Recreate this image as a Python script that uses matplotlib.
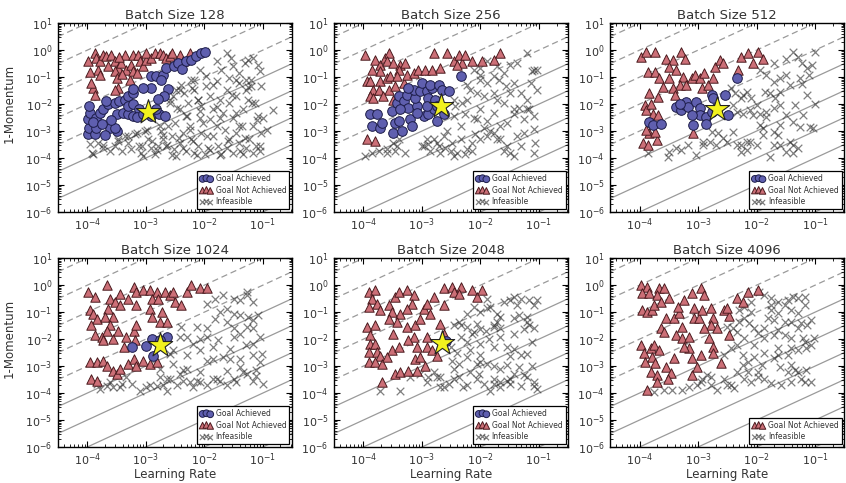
import numpy as np
import matplotlib
matplotlib.use("Agg")
import matplotlib.pyplot as plt
from matplotlib.ticker import LogLocator, NullFormatter

# ---------------- data: (log10 learning rate, log10 (1-momentum)) ----------------
batch_sizes = [128, 256, 512, 1024, 2048, 4096]

b128_goal = [(-3.99,-3.12),(-3.97,-2.87),(-3.99,-2.56),(-3.96,-2.32),(-3.97,-2.08),(-3.87,-3.12),(-3.85,-2.87),
             (-3.85,-2.5),(-3.9,-2.67),(-3.79,-2.32),(-3.73,-2.2),(-3.65,-2.01),(-3.62,-2.87),(-3.70,-3.16),(-3.5,-3.0),
             (-3.53,-2.87),(-3.5,-2.38),(-3.39,-2.32),(-3.3,-2.38),(-3.22,-2.44),(-3.53,-1.95),(-3.45,-1.89),(-3.36,-1.83),
             (-3.3,-1.71),(-3.22,-1.58),(-3.3,-2.08),(-3.22,-1.98),(-3.11,-2.2),(-3.15,-2.47),(-3.05,-2.38),(-2.91,-2.44),
             (-2.77,-2.38),(-2.68,-2.44),(-2.82,-2.17),(-2.91,-0.95),(-2.82,-0.97),(-2.71,-0.91),(-2.74,-1.12),(-2.62,-1.44),
             (-2.69,-1.71),(-2.79,-1.81),(-2.91,-1.4),(-3.05,-1.4),(-3.22,-1.44),(-2.65,-0.66),(-2.52,-0.6),(-2.45,-0.48),
             (-2.38,-0.7),(-2.31,-0.42),(-2.22,-0.36),(-2.14,-0.21),(-2.05,-0.11),(-1.98,-0.05),(-3.68,-1.9),(-3.6,-2.6),
             (-3.75,-2.75)]
b128_fail = [(-3.99,-0.42),(-3.87,-0.11),(-3.85,-0.29),(-3.82,-0.72),(-3.79,-0.42),(-3.73,-0.17),(-3.68,-0.23),
             (-3.79,-0.91),(-3.9,-1.4),(-3.87,-1.65),(-3.93,-1.22),(-3.59,-0.17),(-3.53,-0.42),(-3.48,-0.66),(-3.42,-0.48),
             (-3.36,-0.17),(-3.53,-0.79),(-3.5,-1.03),(-3.48,-1.4),(-3.53,-1.46),(-3.33,-0.72),(-3.27,-1.09),(-3.25,-0.54),
             (-3.22,-0.17),(-3.13,-0.17),(-3.1,-0.42),(-3.05,-0.6),(-2.99,-0.36),(-2.99,-0.11),(-2.91,-0.29),(-2.85,-0.11),
             (-2.76,-0.11),(-2.71,-0.17),(-2.65,-0.29),(-2.59,-0.21),(-2.42,-0.17),(-2.37,-0.42),(-2.25,-0.11),(-3.22,-0.79),
             (-3.65,-0.6),(-3.95,-0.8),(-3.4,-0.9),(-3.15,-0.85),(-2.55,-0.1),(-3.45,-0.25)]
b128_infeasible = [(-3.96,-3.49),(-3.90,-3.86),(-3.82,-3.45),(-3.73,-3.61),(-3.62,-3.73),(-3.53,-3.55),(-3.48,-3.3),
             (-3.36,-3.18),(-3.3,-3.43),(-3.25,-3.67),(-3.19,-3.12),(-3.11,-3.55),(-3.08,-3.8),(-3.02,-3.0),(-2.96,-3.3),
             (-2.91,-3.61),(-2.85,-3.86),(-2.79,-3.55),(-2.74,-3.0),(-2.71,-3.3),(-2.65,-3.55),(-2.62,-2.81),(-2.56,-3.18),
             (-2.51,-3.67),(-2.48,-3.92),(-2.42,-3.43),(-2.36,-3.06),(-2.31,-3.73),(-2.25,-2.81),(-2.22,-3.3),(-2.17,-3.8),
             (-2.11,-3.55),(-2.05,-3.06),(-1.99,-3.86),(-1.94,-3.61),(-1.85,-3.18),(-1.79,-2.81),(-1.77,-3.55),(-1.71,-3.86),
             (-1.62,-3.61),(-1.57,-3.3),(-1.51,-3.8),(-1.45,-3.06),(-1.4,-3.43),(-1.34,-3.86),(-1.28,-3.61),(-1.23,-3.3),
             (-1.17,-3.8),(-1.11,-3.55),(-1.05,-3.73),(-1.03,-3.06),(-1.0,-2.51),
             (-2.59,-1.95),(-2.54,-1.71),(-2.48,-1.46),(-2.39,-1.28),(-2.34,-1.58),(-2.28,-1.95),(-2.22,-1.09),(-2.17,-1.46),
             (-2.11,-1.83),(-2.05,-2.08),(-1.97,-1.34),(-1.91,-1.71),(-1.85,-2.2),(-1.79,-1.15),(-1.74,-1.83),(-1.68,-2.32),
             (-1.62,-1.46),(-1.57,-1.95),(-1.51,-2.51),(-1.45,-1.71),(-1.4,-1.22),(-1.34,-2.2),(-1.28,-1.46),(-1.25,-1.83),
             (-1.2,-1.09),(-1.14,-1.95),(-1.08,-2.44),(-1.03,-1.34),(-1.91,-2.57),(-2.08,-2.51),(-2.31,-2.44),(-2.42,-2.2),
             (-1.4,-2.81),(-1.17,-2.81),
             (-1.79,-0.42),(-1.71,-0.72),(-1.62,-0.11),(-1.54,-0.29),(-1.51,-0.6),(-1.4,-0.85),(-1.31,-0.48),(-1.25,-0.36),
             (-1.17,-0.29),(-1.08,-0.54),(-1.05,-0.79),(-1.57,-1.03),(-1.45,-1.09),(-1.28,-1.09),(-1.2,-1.34),(-1.97,-0.97),
             (-2.08,-0.72),(-2.17,-1.09),
             (-3.92,-3.81),(-3.73,-3.5),(-3.47,-3.38),(-3.41,-3.75),(-3.3,-3.2),(-3.15,-3.07),(-3.07,-3.56),(-2.98,-2.95),
             (-2.9,-3.38),(-2.81,-3.69),(-2.76,-2.83),(-2.7,-3.13),(-2.64,-3.5),(-2.56,-3.87),(-2.5,-2.7),(-2.44,-3.25),
             (-2.36,-3.62),(-2.3,-2.46),(-2.24,-2.95),(-2.19,-3.38),(-2.1,-1.84),(-2.07,-2.27),(-2.02,-2.7),(-1.96,-3.2),
             (-1.9,-3.69),(-1.85,-1.29),(-1.79,-2.09),(-1.73,-2.52),(-1.65,-2.95),(-1.59,-3.38),(-1.53,-1.66),(-1.45,-2.33),
             (-1.36,-2.83),(-1.3,-3.25),(-1.25,-1.35),(-1.19,-1.96),(-1.1,-2.58),(-1.05,-3.56),(-1.39,-3.75),(-1.73,-3.87),
             (-2.13,-3.87),(-3.04,-3.93),(-2.41,-1.47),(-2.21,-1.41),(-2.59,-1.84),(-2.47,-2.15),(-0.93,-2.95),(-0.82,-2.21)]

b256_goal = [(-3.89,-2.38),(-3.77,-2.38),(-3.86,-2.81),(-3.71,-2.87),(-3.69,-2.69),(-3.51,-2.26),(-3.46,-2.69),
             (-3.49,-3.06),(-3.34,-3.0),(-3.4,-2.63),(-3.43,-1.95),(-3.4,-1.71),(-3.31,-1.89),(-3.26,-1.65),(-3.23,-2.14),
             (-3.2,-2.57),(-3.17,-2.81),(-3.09,-2.08),(-3.11,-1.77),(-3.14,-1.46),(-3.03,-1.52),(-3.0,-1.22),(-2.91,-1.52),
             (-2.89,-1.77),(-2.97,-2.44),(-2.89,-2.38),(-2.8,-2.2),(-2.74,-2.63),(-2.77,-1.83),(-2.83,-1.4),(-2.86,-1.28),
             (-2.71,-1.28),(-2.66,-1.46),(-2.54,-1.52),(-2.74,-2.08),(-2.63,-2.38),(-2.34,-0.97),(-3.23,-1.4),(-2.91,-2.08),
             (-3.09,-2.32),(-3.37,-2.2)]
b256_fail = [(-3.97,-0.17),(-3.8,-0.36),(-3.71,-0.54),(-3.63,-0.29),(-3.57,-0.11),(-3.6,-0.42),(-3.49,-0.48),
             (-3.37,-0.54),(-3.29,-0.48),(-3.4,-0.72),(-3.71,-0.79),(-3.86,-0.72),(-3.94,-1.15),(-3.89,-1.15),(-3.83,-1.46),
             (-3.71,-1.15),(-3.6,-1.03),(-3.57,-1.46),(-3.74,-1.46),(-3.89,-1.71),(-3.83,-1.77),(-3.66,-1.71),(-3.46,-1.34),
             (-3.49,-1.83),(-3.31,-1.22),(-3.26,-0.91),(-3.14,-0.85),(-3.06,-0.72),(-2.94,-0.72),(-2.83,-0.72),(-2.69,-0.66),
             (-2.8,-0.11),(-2.57,-0.11),(-2.46,-0.42),(-2.37,-0.17),(-2.31,-0.48),(-2.26,-0.17),(-2.14,-0.42),(-1.97,-0.42),
             (-1.77,-0.36),(-1.66,-0.11),(-3.94,-3.3),(-3.8,-3.37),(-3.54,-0.97),(-3.43,-0.97),(-2.4,-0.54)]
b256_infeasible = [(-3.97,-3.92),(-3.86,-3.8),(-3.74,-3.73),(-3.6,-3.67),(-3.49,-3.43),(-3.4,-3.3),(-3.46,-3.73),
             (-3.29,-3.8),(-3.0,-3.55),(-2.89,-3.49),(-2.8,-3.3),(-2.71,-3.55),(-2.63,-3.18),(-2.6,-3.61),(-2.51,-3.73),
             (-2.4,-3.8),(-2.34,-3.3),(-2.23,-3.67),(-2.14,-3.43),(-2.09,-3.12),(-2.0,-3.3),(-1.89,-3.18),(-1.77,-3.06),
             (-1.66,-3.3),(-1.54,-3.55),(-1.49,-3.8),(-1.43,-3.92),(-1.06,-3.43),(-1.09,-3.8),(-2.57,-3.0),(-2.91,-3.3),
             (-2.43,-2.08),(-2.31,-1.95),(-2.23,-1.83),(-2.46,-2.44),(-2.26,-2.38),(-2.11,-2.51),(-2.0,-2.2),(-2.17,-1.46),
             (-2.06,-1.58),(-1.94,-1.71),(-1.89,-2.63),(-1.77,-2.32),(-1.71,-1.83),(-1.66,-2.81),(-1.57,-1.34),(-1.49,-1.58),
             (-1.43,-2.38),(-1.34,-2.14),(-1.26,-2.57),(-1.17,-2.2),(-1.09,-2.44),(-1.03,-1.46),(-1.2,-1.83),(-2.0,-1.09),
             (-1.89,-1.22),(-2.23,-1.28),(-1.69,-1.09),(-1.43,-1.22),
             (-1.89,-0.42),(-1.71,-0.6),(-1.6,-0.85),(-1.49,-0.54),(-1.37,-0.48),(-1.2,-0.11),(-1.11,-0.79),(-1.03,-0.72),
             (-2.0,-0.91),(-2.11,-0.72),(-1.77,-0.97),
             (-2.97,-3.55),(-2.86,-3.73),(-2.74,-3.43),(-2.69,-3.8),(-2.49,-3.43),(-2.46,-3.92),(-2.26,-3.86),(-2.14,-3.73),
             (-1.94,-2.87),(-1.83,-3.0),(-1.71,-3.3),(-1.6,-3.73),(-1.31,-3.55),(-1.37,-3.18),(-1.26,-3.06),(-1.09,-2.94),
             (-2.34,-2.81),(-2.06,-2.57),(-1.54,-2.69),(-1.43,-2.2),(-1.31,-1.58),(-1.14,-1.22),(-1.09,-0.72),(-1.77,-1.58),
             (-1.6,-1.95),(-2.46,-1.83),(-2.0,-0.66),(-1.2,-2.2),(-3.43,-3.55),(-3.6,-3.8)]

b512_goal = [(-3.83,-2.68),(-3.77,-2.78),(-3.63,-2.75),(-3.37,-2.1),(-3.29,-2.22),(-3.23,-2.04),(-3.2,-1.91),
             (-3.17,-2.1),(-3.03,-1.91),(-2.97,-2.16),(-2.97,-2.41),(-2.86,-2.47),(-2.86,-2.75),(-2.77,-1.67),(-2.74,-1.79),
             (-2.77,-2.28),(-2.69,-2.16),(-3.09,-2.78),(-2.54,-1.67),(-2.49,-2.41),(-2.34,-1.05),(-3.31,-1.98),(-3.11,-2.41)]
b512_fail = [(-3.97,-0.25),(-3.89,-0.06),(-3.74,-0.06),(-3.86,-0.8),(-3.74,-0.8),(-3.66,-1.05),(-3.83,-1.6),
             (-3.91,-2.04),(-3.89,-2.22),(-3.8,-1.98),(-3.69,-1.73),(-3.77,-2.35),(-3.69,-2.41),(-3.83,-3.09),(-3.89,-2.96),
             (-3.94,-3.46),(-3.86,-3.52),(-3.71,-3.33),(-3.74,-3.02),(-3.54,-0.31),(-3.43,-0.37),(-3.29,-0.06),(-3.23,-0.31),
             (-3.49,-0.62),(-3.37,-0.74),(-3.26,-0.99),(-3.31,-1.3),(-3.43,-1.42),(-3.4,-1.67),(-3.6,-1.36),(-3.49,-1.05),
             (-3.2,-1.3),(-3.11,-1.05),(-3.06,-0.93),(-2.97,-1.05),(-2.89,-0.86),(-2.94,-1.42),(-2.83,-1.3),(-2.71,-0.62),
             (-2.63,-0.37),(-2.57,-0.49),(-2.74,-1.05),(-2.31,-0.74),(-2.26,-0.25),(-2.14,-0.12),(-2.06,-0.49),(-1.97,-0.06),
             (-1.89,-0.31),(-3.09,-3.09)]
b512_infeasible = [(-3.86,-3.83),(-3.51,-3.95),(-3.37,-3.64),(-3.29,-3.7),(-3.17,-3.52),(-3.03,-3.89),(-2.91,-3.52),
             (-2.8,-3.4),(-2.77,-3.02),(-2.66,-3.09),(-2.57,-3.27),(-2.4,-3.02),(-2.34,-3.52),(-2.26,-3.77),(-2.17,-3.7),
             (-2.11,-3.4),(-2.0,-3.52),(-1.94,-2.78),(-1.83,-2.47),(-1.77,-3.95),(-1.63,-3.15),(-1.6,-3.52),(-1.43,-3.4),
             (-1.37,-3.83),(-1.26,-2.84),(-1.09,-2.84),(-1.29,-3.64),(-2.43,-1.42),(-2.37,-1.6),(-2.26,-1.79),(-2.17,-1.54),
             (-2.09,-1.79),(-2.34,-2.28),(-2.23,-2.35),(-2.11,-2.22),(-2.0,-2.04),(-1.94,-2.35),(-1.83,-2.28),(-1.86,-1.54),
             (-1.77,-1.6),(-1.69,-1.79),(-1.6,-2.04),(-1.49,-2.41),(-1.34,-2.04),(-1.14,-1.67),(-1.0,-1.98),(-1.94,-0.74),
             (-1.83,-0.93),(-1.71,-0.49),(-1.6,-1.05),(-1.49,-0.93),(-1.37,-0.06),(-1.29,-0.25),(-1.23,-0.49),(-1.14,-0.68),
             (-1.11,-0.93),(-1.0,-0.06),(-1.23,-1.24),(-1.89,-2.9),(-1.71,-3.02),
             (-2.69,-3.52),(-2.51,-3.4),(-2.26,-3.52),(-2.17,-3.4),(-1.89,-3.15),(-1.71,-3.52),(-1.49,-3.77),(-1.37,-3.52),
             (-1.6,-2.78),(-1.37,-2.65),(-1.2,-2.41),(-1.03,-2.9),(-2.06,-2.41),(-1.71,-2.16),(-1.6,-1.54),(-1.43,-1.3),
             (-1.26,-1.05),(-1.06,-0.56),(-1.49,-0.31),(-1.71,-1.17),(-2.4,-2.04),(-2.23,-1.67),(-2.91,-3.4),(-3.49,-3.77)]

b1024_goal = [(-3.24,-2.3),(-2.99,-2.24),(-2.9,-1.99),(-2.88,-2.61),(-2.64,-1.93),(-2.76,-2.05)]
b1024_fail = [(-3.98,-0.25),(-3.87,-0.43),(-3.95,-0.93),(-3.9,-1.06),(-3.84,-1.24),(-3.93,-1.49),(-3.87,-1.86),
             (-3.75,-1.93),(-3.67,0.0),(-3.61,-0.5),(-3.53,-0.62),(-3.44,-0.31),(-3.44,-0.75),(-3.64,-0.87),(-3.7,-1.18),
             (-3.56,-1.18),(-3.61,-1.49),(-3.67,-1.68),(-3.73,-2.05),(-3.56,-1.99),(-3.47,-1.68),(-3.95,-2.86),(-3.84,-2.86),
             (-3.73,-2.8),(-3.67,-2.98),(-3.93,-3.48),(-3.84,-3.54),(-3.56,-3.17),(-3.5,-3.29),(-3.44,-3.11),(-3.3,-2.92),
             (-3.21,-2.73),(-3.16,-2.98),(-3.04,-2.8),(-2.93,-2.92),(-2.81,-2.86),(-3.38,-2.3),(-3.33,-1.93),(-3.21,-1.68),
             (-3.19,-2.05),(-3.16,-1.49),(-3.21,-0.06),(-3.16,-0.25),(-3.3,-0.5),(-3.16,-0.75),(-3.04,-0.19),(-2.93,-0.19),
             (-2.81,-0.25),(-2.9,-0.5),(-2.79,-0.5),(-2.67,-0.25),(-2.59,-0.37),(-2.93,-0.87),(-2.9,-1.18),(-2.76,-1.37),
             (-2.64,-1.37),(-2.5,-0.62),(-2.39,-0.75),(-2.3,-0.25),(-2.22,0.0),(-2.07,-0.12),(-1.96,-0.12),(-2.53,-0.25),
             (-2.73,-0.99)]
b1024_infeasible = [(-3.84,-3.66),(-3.67,-3.73),(-3.56,-3.79),(-3.41,-3.66),(-3.33,-3.42),(-3.24,-3.66),(-3.1,-3.91),
             (-2.99,-3.79),(-2.81,-3.73),(-2.76,-3.42),(-2.64,-3.91),(-2.53,-2.92),(-2.42,-3.29),(-2.36,-3.54),(-2.3,-3.11),
             (-2.19,-3.79),(-2.13,-3.54),(-2.07,-3.23),(-1.96,-2.8),(-1.85,-3.48),(-1.73,-3.54),(-1.62,-3.17),(-1.5,-3.48),
             (-1.39,-3.04),(-1.27,-3.29),(-1.16,-3.54),(-0.99,-3.66),(-1.05,-2.86),(-1.11,-3.35),(-2.53,-2.42),(-2.39,-1.55),
             (-2.3,-1.93),(-2.19,-2.17),(-2.07,-2.42),(-2.13,-1.55),(-1.96,-1.93),(-1.85,-2.3),(-1.76,-2.05),(-1.68,-2.67),
             (-1.56,-2.36),(-1.5,-1.93),(-1.39,-1.8),(-1.27,-1.55),(-1.16,-2.17),(-1.05,-1.93),(-1.02,-2.55),(-1.82,-1.24),
             (-1.73,-0.99),(-1.62,-0.87),(-1.5,-1.06),(-1.39,-0.56),(-1.27,-0.37),(-1.25,-1.18),(-1.16,-1.3),(-1.08,-1.12),
             (-1.96,-0.68),(-1.82,-0.5),(-1.68,-0.37),(-1.5,-0.5),(-1.27,-0.25),(-2.42,-1.93),(-2.59,-2.55),(-2.76,-3.11),
             (-3.78,-3.84),(-3.61,-3.59),(-3.44,-3.78),(-2.93,-3.71),(-2.7,-3.71),(-2.59,-3.47),(-2.47,-3.71),(-2.36,-3.16),
             (-2.25,-3.59),(-2.07,-3.59),(-1.96,-3.71),(-1.79,-3.47),(-1.62,-3.71),(-1.45,-3.59),(-1.33,-3.22),(-1.11,-3.16),
             (-1.56,-2.72),(-1.39,-2.72),(-1.16,-2.6),(-1.28,-2.22),(-1.5,-1.6),(-1.62,-1.35),(-1.16,-1.6),(-1.39,-1.11),
             (-1.16,-0.61),(-1.96,-1.6),(-2.07,-1.98),(-2.3,-2.6),(-1.85,-2.72),(-2.64,-3.47)]

b2048_goal = [(-2.58,-2.06)]
b2048_fail = [(-3.91,-0.25),(-3.8,-0.19),(-3.86,-0.5),(-3.91,-0.81),(-3.77,-0.68),(-3.94,-1.55),(-3.8,-1.49),
             (-3.89,-1.86),(-3.89,-2.17),(-3.8,-2.17),(-3.91,-2.48),(-3.77,-2.48),(-3.71,-2.61),(-3.91,-2.86),(-3.8,-2.86),
             (-3.69,-2.92),(-3.57,-0.75),(-3.51,-0.99),(-3.46,-0.43),(-3.4,-0.25),(-3.26,-0.19),(-3.14,-0.37),(-3.17,-0.68),
             (-3.26,-0.87),(-3.37,-1.06),(-3.43,-1.37),(-3.57,-1.24),(-3.49,-1.8),(-3.51,-2.42),(-3.4,-2.3),(-3.6,-2.67),
             (-3.46,-3.29),(-3.37,-3.23),(-3.23,-3.17),(-3.09,-3.17),(-2.94,-2.98),(-3.11,-2.73),(-3.03,-2.67),(-3.09,-2.3),
             (-3.14,-1.93),(-3.23,-2.05),(-3.26,-1.55),(-3.11,-1.49),(-3.03,-1.24),(-2.97,-0.87),(-2.91,-0.68),(-2.86,-1.06),
             (-2.91,-1.93),(-2.91,-2.3),(-2.83,-2.42),(-2.74,-2.61),(-3.69,-3.6),(-2.63,-0.12),(-2.63,-0.75),(-2.49,-0.06),
             (-2.46,-0.25),(-2.34,-0.06),(-2.37,-0.31),(-2.14,-0.19),(-2.06,-0.43),(-1.97,-0.19),(-2.69,-1.43),(-2.63,-1.8),
             (-2.8,-0.43),(-3.71,-0.93)]
b2048_infeasible = [(-3.71,-3.91),(-3.37,-3.91),(-3.2,-3.42),(-3.03,-3.29),(-2.89,-3.42),(-2.8,-3.23),(-2.69,-3.42),
             (-2.63,-3.79),(-2.54,-3.66),(-2.46,-3.11),(-2.37,-3.42),(-2.29,-3.79),(-2.17,-3.23),(-2.03,-3.29),(-1.94,-3.66),
             (-1.83,-3.91),(-1.77,-3.66),(-1.66,-3.79),(-1.54,-3.54),(-1.49,-3.66),(-1.31,-3.73),(-1.2,-3.42),(-1.09,-3.73),
             (-1.03,-3.85),(-2.49,-2.8),(-2.37,-2.92),(-2.23,-2.67),(-2.06,-2.92),(-2.0,-2.86),(-1.89,-2.92),(-1.77,-2.98),
             (-1.66,-3.11),(-1.43,-3.29),(-1.34,-3.04),(-1.11,-2.98),(-2.46,-1.49),(-2.37,-1.37),(-2.23,-1.55),(-2.14,-1.8),
             (-2.06,-1.43),(-2.0,-1.61),(-1.91,-1.68),(-2.17,-2.42),(-2.0,-2.17),(-1.86,-1.99),(-1.77,-2.3),(-1.66,-1.93),
             (-1.54,-2.3),(-1.49,-2.61),(-1.43,-1.8),(-1.26,-1.61),(-1.17,-1.49),(-1.11,-2.11),(-1.2,-2.55),(-2.23,-1.06),
             (-2.11,-0.81),(-2.0,-0.99),(-1.89,-0.5),(-1.83,-0.81),(-1.71,-1.06),(-1.66,-1.18),(-1.6,-0.62),(-1.49,-0.56),
             (-1.43,-0.43),(-1.37,-0.75),(-1.31,-0.5),(-1.17,-0.56),(-1.03,-0.56),(-1.34,-1.12),(-1.2,-1.18),(-1.77,-1.55),
             (-2.51,-2.3),(-2.34,-1.93),
             (-2.91,-3.59),(-2.74,-3.4),(-2.69,-3.78),(-2.46,-3.47),(-2.23,-3.71),(-2.06,-3.47),(-1.77,-3.47),(-1.66,-3.59),
             (-1.49,-3.47),(-1.26,-3.34),(-1.09,-3.59),(-1.54,-2.97),(-1.31,-2.6),(-2.23,-2.1),(-2.11,-1.73),(-1.77,-1.48),
             (-1.66,-1.6),(-1.43,-1.23),(-1.2,-1.35),(-1.09,-1.6),(-1.09,-0.73),(-1.89,-0.86),(-1.71,-1.35),(-2.34,-1.48),
             (-2.4,-2.53),(-2.0,-2.6),(-1.43,-2.35)]

b4096_goal = []
b4096_fail = [(-3.98,0.0),(-3.87,-0.05),(-3.95,-0.3),(-3.84,-0.3),(-3.95,-0.92),(-3.87,-0.98),(-3.78,-0.92),
             (-3.75,-0.73),(-3.67,-0.11),(-3.58,-0.11),(-3.7,-0.36),(-3.64,-0.61),(-3.5,-0.48),(-3.55,-1.23),(-3.64,-1.6),
             (-3.58,-1.72),(-3.98,-2.22),(-3.93,-2.53),(-3.81,-2.34),(-3.75,-2.22),(-3.67,-2.4),(-3.78,-2.65),(-3.73,-2.9),
             (-3.9,-2.84),(-3.81,-3.21),(-3.7,-3.33),(-3.55,-3.02),(-3.47,-3.27),(-3.52,-3.46),(-3.7,-3.58),(-3.87,-3.89),
             (-3.41,-1.23),(-3.33,-1.04),(-3.27,-1.54),(-3.38,-1.85),(-3.27,-1.97),(-3.35,-0.79),(-3.24,-0.55),(-3.1,-0.3),
             (-2.95,-0.11),(-2.9,-0.36),(-3.07,-0.86),(-3.07,-1.23),(-2.98,-1.23),(-2.93,-0.92),(-3.15,-1.91),(-3.15,-2.34),
             (-3.1,-2.71),(-2.95,-2.59),(-3.1,-3.33),(-3.01,-3.02),(-2.78,-0.86),(-2.75,-1.23),(-2.78,-1.47),(-2.67,-1.6),
             (-2.81,-1.97),(-2.75,-2.28),(-2.75,-2.53),(-2.61,-2.9),(-2.55,-0.92),(-2.47,-1.16),(-2.5,-0.86),(-2.47,-1.85),
             (-2.33,-0.48),(-2.24,-0.61),(-2.15,-0.24),(-1.98,-0.17),(-3.24,-2.28),(-3.41,-2.71),(-2.9,-1.6)]
b4096_infeasible = [(-3.75,-3.95),(-3.58,-3.89),(-3.44,-3.89),(-3.27,-3.89),(-3.15,-3.77),(-3.01,-3.7),(-2.93,-3.46),
             (-2.84,-3.33),(-2.78,-3.7),(-2.67,-3.89),(-2.55,-3.46),(-2.5,-3.7),(-2.38,-3.83),(-2.33,-3.21),(-2.24,-2.96),
             (-2.15,-3.21),(-2.1,-3.58),(-1.98,-3.4),(-1.9,-2.96),(-1.75,-3.64),(-1.58,-3.7),(-1.6,-3.02),(-1.47,-3.21),
             (-1.35,-3.15),(-1.24,-3.46),(-1.07,-3.58),(-1.15,-3.15),(-1.47,-2.59),(-1.3,-2.4),(-1.15,-2.34),(-1.07,-2.22),
             (-1.41,-1.97),(-1.21,-1.97),(-2.44,-2.34),(-2.33,-2.22),(-2.24,-2.59),(-2.15,-2.84),(-2.04,-2.65),(-1.87,-2.53),
             (-1.7,-2.71),(-1.64,-2.34),(-2.5,-1.54),(-2.41,-1.6),(-2.3,-1.35),(-2.21,-1.23),(-2.13,-1.41),(-2.04,-1.6),
             (-1.98,-1.78),(-1.87,-1.97),(-1.81,-1.23),(-1.7,-1.29),(-1.64,-1.66),(-1.52,-1.85),(-1.41,-1.35),(-1.24,-1.41),
             (-1.07,-1.29),(-1.95,-0.24),(-1.87,-0.36),(-1.75,-0.48),(-1.64,-0.61),(-1.52,-0.73),(-1.47,-0.55),(-1.38,-0.42),
             (-1.3,-0.48),(-1.18,-0.42),(-1.41,-0.92),(-1.3,-1.04),(-2.3,-0.92),(-2.21,-0.79),(-2.1,-0.98),(-1.75,-0.92),
             (-1.64,-1.04),
             (-2.95,-3.58),(-2.78,-3.4),(-2.44,-3.7),(-2.21,-3.46),(-1.98,-3.21),(-1.87,-3.46),(-1.41,-3.58),(-1.3,-3.21),
             (-1.18,-3.58),(-1.41,-2.96),(-1.64,-2.59),(-1.41,-2.34),(-1.18,-2.09),(-1.01,-1.97),(-1.7,-1.85),(-1.87,-1.6),
             (-1.52,-1.35),(-1.3,-1.6),(-1.13,-1.47),(-1.18,-0.73),(-1.75,-0.73),(-2.1,-0.61),(-2.33,-1.72),(-2.21,-1.97),
             (-2.04,-2.22),(-2.55,-2.59)]

# best setting (star) per batch size
best_points = [(-2.97,-2.28), (-2.68,-2.06), (-2.68,-2.2), (-2.76,-2.2), (-2.65,-2.14), None]

# effective learning rate contours: lr / (1 - momentum) = 10**k
contour_exponents = [-5, -4, -3, -2, -1, 0, 1, 2, 3, 4, 5]

goal_sets = [b128_goal, b256_goal, b512_goal, b1024_goal, b2048_goal, b4096_goal]
fail_sets = [b128_fail, b256_fail, b512_fail, b1024_fail, b2048_fail, b4096_fail]
infeasible_sets = [b128_infeasible, b256_infeasible, b512_infeasible, b1024_infeasible,
                   b2048_infeasible, b4096_infeasible]

# ---------------- style ----------------
plt.rcParams.update({
    "font.family": ["DejaVu Sans"],
    "xtick.direction": "in", "ytick.direction": "in",
    "xtick.top": True, "ytick.right": True,
    "xtick.major.size": 4, "ytick.major.size": 4,
    "xtick.minor.size": 2, "ytick.minor.size": 2,
    "xtick.major.width": 0.8, "ytick.major.width": 0.8,
    "xtick.minor.width": 0.6, "ytick.minor.width": 0.6,
    "xtick.major.pad": 3.5, "ytick.major.pad": 4,
    "xtick.labelsize": 8, "ytick.labelsize": 8,
    "axes.linewidth": 1.0,
    "text.color": "#333333", "xtick.labelcolor": "#333333", "ytick.labelcolor": "#333333",
    "axes.labelcolor": "#333333",
})

fig, axes = plt.subplots(2, 3, figsize=(8.46, 4.83), dpi=100)
fig.subplots_adjust(left=0.0686, right=0.998, bottom=0.0745, top=0.952, wspace=0.18, hspace=0.245)

xlim = (10 ** -4.5, 10 ** -0.5)
ylim = (1e-6, 1e1)
line_x = np.array(xlim)

for i, ax in enumerate(axes.flat):
    ax.set_xscale("log")
    ax.set_yscale("log")
    for k in contour_exponents:
        if k < 0:
            ax.plot(line_x, line_x / 10.0 ** k, color="#9a9a9a", lw=0.9, ls=(0, (5, 3)), zorder=1)
        else:
            ax.plot(line_x, line_x / 10.0 ** k, color="#9a9a9a", lw=0.9, ls="-", zorder=1)

    inf = np.array(infeasible_sets[i])
    h_inf = ax.scatter(10 ** inf[:, 0], 10 ** inf[:, 1], marker="x", s=30, linewidths=0.9,
                       color="#2a2a2a", alpha=0.6, zorder=2, label="Infeasible")
    fl = np.array(fail_sets[i])
    h_fail = ax.scatter(10 ** fl[:, 0], 10 ** fl[:, 1], marker="^", s=46, facecolor="#cc6f77",
                        edgecolor="#4a1a1e", linewidths=0.7, zorder=3, label="Goal Not Achieved")
    handles = []
    if len(goal_sets[i]) > 0:
        gl = np.array(goal_sets[i])
        h_goal = ax.scatter(10 ** gl[:, 0], 10 ** gl[:, 1], marker="o", s=48, facecolor="#5f5faf",
                            edgecolor="#1c1c48", linewidths=0.7, zorder=4, label="Goal Achieved")
        handles.append(h_goal)
    handles += [h_fail, h_inf]

    if best_points[i] is not None:
        bx, by = best_points[i]
        ax.scatter([10 ** bx], [10 ** by], marker="*", s=340, facecolor="#f2f21e",
                   edgecolor="#222222", linewidths=0.8, zorder=5)

    ax.set_xlim(*xlim)
    ax.set_ylim(*ylim)
    for axis in (ax.xaxis, ax.yaxis):
        axis.set_major_locator(LogLocator(base=10, numticks=20))
        axis.set_minor_locator(LogLocator(base=10, subs=np.arange(2, 10), numticks=200))
        axis.set_minor_formatter(NullFormatter())
    ax.set_title(f"Batch Size {batch_sizes[i]}", fontsize=9.5, pad=3)
    if i % 3 == 0:
        ax.set_ylabel("1-Momentum", fontsize=8.5)
        ax.yaxis.set_label_coords(-0.18, 0.575)
    if i >= 3:
        ax.set_xlabel("Learning Rate", fontsize=8.5, labelpad=0)

    leg = ax.legend(handles=handles, loc="lower right", fontsize=5.5, scatterpoints=3,
                    markerscale=0.7, fancybox=False, framealpha=1, edgecolor="black",
                    borderpad=0.4, labelspacing=0.35, handletextpad=0.4, borderaxespad=0.35,
                    handlelength=1.6)
    leg.get_frame().set_linewidth(0.9)

fig.savefig("out.png", dpi=100, facecolor="white")
